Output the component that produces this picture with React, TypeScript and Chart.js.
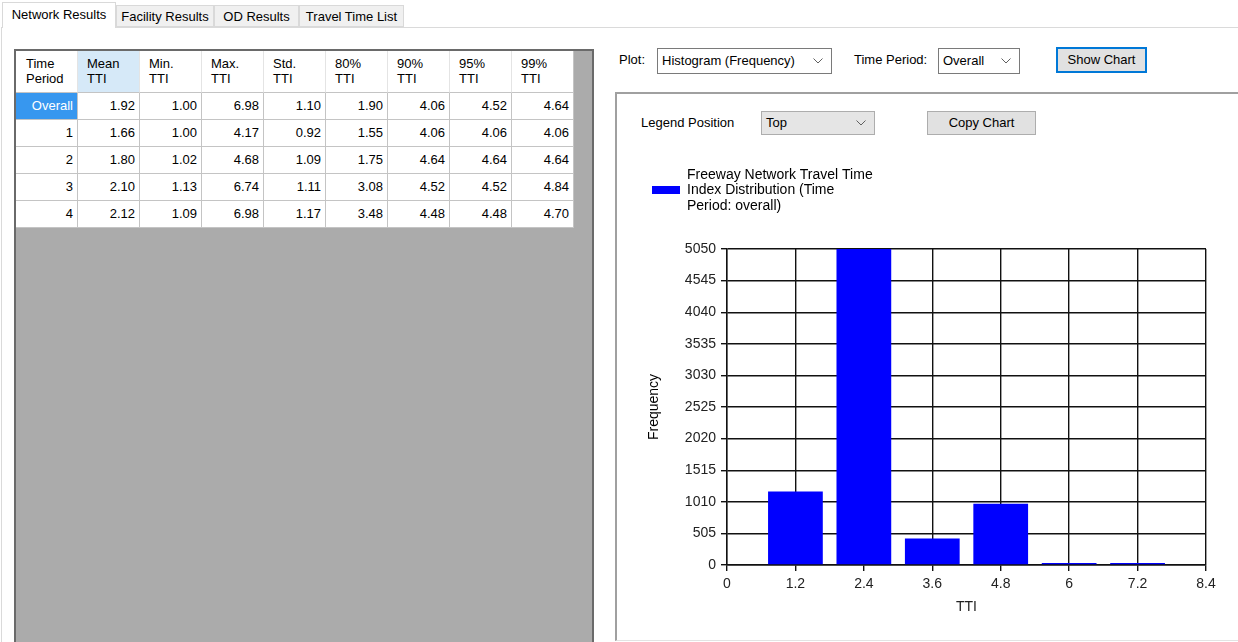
import React, { useEffect, useRef } from "react";
import { Chart, registerables } from "chart.js";

Chart.register(...registerables);

// ---------- chart data ----------
const binCenters = [1.2, 2.4, 3.6, 4.8, 6, 7.2];
const frequencies = [1175, 5050, 425, 978, 30, 30];
const xTickValues = [0, 1.2, 2.4, 3.6, 4.8, 6, 7.2, 8.4];
const yTickValues = [0, 505, 1010, 1515, 2020, 2525, 3030, 3535, 4040, 4545, 5050];
const legendLines = ["Freeway Network Travel Time", "Index Distribution (Time", "Period: overall)"];
const xTitle = "TTI";
const yTitle = "Frequency";

// ---------- table data ----------
const tableHeaders = [
  ["Time", "Period"],
  ["Mean", "TTI"],
  ["Min.", "TTI"],
  ["Max.", "TTI"],
  ["Std.", "TTI"],
  ["80%", "TTI"],
  ["90%", "TTI"],
  ["95%", "TTI"],
  ["99%", "TTI"],
];
const timePeriods = ["Overall", "1", "2", "3", "4"];
const meanTTI = ["1.92", "1.66", "1.80", "2.10", "2.12"];
const minTTI = ["1.00", "1.00", "1.02", "1.13", "1.09"];
const maxTTI = ["6.98", "4.17", "4.68", "6.74", "6.98"];
const stdTTI = ["1.10", "0.92", "1.09", "1.11", "1.17"];
const p80TTI = ["1.90", "1.55", "1.75", "3.08", "3.48"];
const p90TTI = ["4.06", "4.06", "4.64", "4.52", "4.48"];
const p95TTI = ["4.52", "4.06", "4.64", "4.52", "4.48"];
const p99TTI = ["4.64", "4.06", "4.64", "4.84", "4.70"];

const tabs = ["Network Results", "Facility Results", "OD Results", "Travel Time List"];

const FONT = "'Liberation Sans', Arial, sans-serif";
const BAR_COLOR = "#0000ff";

function Chevron() {
  return (
    <svg width="10" height="6" style={{ display: "block" }}>
      <polyline points="0.5,0.5 5,5 9.5,0.5" fill="none" stroke="#606060" strokeWidth="1" />
    </svg>
  );
}

function Combo(props: { left: number; top: number; width: number; height: number; text: string; bg: string; border: string }) {
  const { left, top, width, height, text, bg, border } = props;
  return (
    <div
      style={{
        position: "absolute",
        left,
        top,
        width,
        height,
        boxSizing: "border-box",
        border: `1px solid ${border}`,
        background: bg,
      }}
    >
      <div style={{ position: "absolute", left: 4, top: 0, lineHeight: `${height - 2}px` }}>{text}</div>
      <div style={{ position: "absolute", right: 8, top: (height - 2 - 6) / 2 }}>
        <Chevron />
      </div>
    </div>
  );
}

function Button(props: { left: number; top: number; width: number; height: number; text: string; border: string; bw: number }) {
  const { left, top, width, height, text, border, bw } = props;
  return (
    <div
      style={{
        position: "absolute",
        left,
        top,
        width,
        height,
        boxSizing: "border-box",
        border: `${bw}px solid ${border}`,
        background: "#e1e1e1",
        textAlign: "center",
        lineHeight: `${height - 2 * bw}px`,
      }}
    >
      {text}
    </div>
  );
}

function Label(props: { left: number; cy: number; text: string }) {
  return (
    <div style={{ position: "absolute", left: props.left, top: props.cy - 10, lineHeight: "20px", whiteSpace: "nowrap" }}>
      {props.text}
    </div>
  );
}

function ResultsGrid() {
  const columns = [timePeriods, meanTTI, minTTI, maxTTI, stdTTI, p80TTI, p90TTI, p95TTI, p99TTI];
  const colW = 62;
  const cellBorder = "#c4c4c4";
  return (
    <div
      style={{
        position: "absolute",
        left: 14,
        top: 49,
        width: 580,
        height: 640,
        boxSizing: "border-box",
        border: "2px solid #6a6a6a",
        background: "#ababab",
      }}
    >
      <div style={{ display: "grid", gridTemplateColumns: `repeat(9, ${colW}px)` }}>
        {tableHeaders.map((h, ci) => (
          <div
            key={"h" + ci}
            style={{
              height: 42,
              boxSizing: "border-box",
              borderRight: `1px solid ${ci === 8 ? cellBorder : "#e4e4e4"}`,
              borderBottom: `1px solid ${cellBorder}`,
              background: ci === 1 ? "#d6e9f8" : "#ffffff",
              paddingLeft: ci === 0 ? 10 : 9,
              paddingTop: 5,
              lineHeight: "15px",
            }}
          >
            <div>{h[0]}</div>
            <div>{h[1]}</div>
          </div>
        ))}
        {timePeriods.map((_, ri) =>
          columns.map((col, ci) => {
            const selected = ri === 0 && ci === 0;
            return (
              <div
                key={`c${ri}-${ci}`}
                style={{
                  height: 27,
                  boxSizing: "border-box",
                  borderRight: `1px solid ${cellBorder}`,
                  borderBottom: `1px solid ${cellBorder}`,
                  background: selected ? "#3797ef" : "#ffffff",
                  color: selected ? "#ffffff" : "#000000",
                  textAlign: "right",
                  paddingRight: 4,
                  lineHeight: "26px",
                }}
              >
                {col[ri]}
              </div>
            );
          })
        )}
      </div>
    </div>
  );
}

function HistogramChart() {
  const ref = useRef<HTMLCanvasElement | null>(null);
  useEffect(() => {
    if (!ref.current) return;

    // legend swatch: a blue box aligned with the middle legend line
    const swatch = document.createElement("canvas");
    swatch.width = 28;
    swatch.height = 40;
    const sctx = swatch.getContext("2d");
    if (sctx) {
      sctx.fillStyle = BAR_COLOR;
      sctx.fillRect(0, 31, 28, 8);
    }

    const legendSpacer = {
      id: "legendSpacer",
      beforeInit(chart: any) {
        const legend = chart.legend;
        if (!legend) return;
        const origFit = legend.fit;
        legend.fit = function () {
          origFit.call(this);
          this.height = 91;
        };
      },
    };

    const font = { family: FONT, size: 14, lineHeight: 1.1 };

    const chart = new Chart(ref.current, {
      type: "bar",
      data: {
        datasets: [
          {
            label: legendLines.join(" "),
            data: binCenters.map((x, i) => ({ x, y: frequencies[i] })),
            backgroundColor: BAR_COLOR,
            borderColor: "#5a5aff",
            borderWidth: 0,
            barPercentage: 0.8,
            categoryPercentage: 1.0,
          },
        ],
      },
      options: {
        responsive: false,
        animation: false,
        events: [],
        layout: { padding: { left: 0, right: 30, top: 0, bottom: 0 } },
        plugins: {
          tooltip: { enabled: false },
          legend: {
            display: true,
            position: "top",
            align: "start",
            labels: {
              usePointStyle: true,
              pointStyleWidth: 28,
              padding: 10,
              color: "#000",
              font,
              generateLabels: () => [
                {
                  text: legendLines as any,
                  fillStyle: BAR_COLOR,
                  strokeStyle: BAR_COLOR,
                  lineWidth: 0,
                  pointStyle: swatch as any,
                  rotation: 0,
                  hidden: false,
                  datasetIndex: 0,
                  fontColor: "#000",
                } as any,
              ],
            },
          },
        },
        scales: {
          x: {
            type: "linear",
            min: 0,
            max: 8.4,
            offset: false,
            grid: { offset: false, color: "#111", lineWidth: 1.4, tickLength: 6, tickColor: "#111" },
            border: { color: "#111", width: 1.4 },
            ticks: { padding: 5, color: "#222", font, autoSkip: false, maxRotation: 0, callback: (v: any) => String(v) },
            afterBuildTicks: (s: any) => {
              s.ticks = xTickValues.map((v) => ({ value: v }));
            },
            afterFit: (s: any) => {
              s.height = 54;
            },
            title: { display: true, text: xTitle, color: "#222", font, padding: { top: 4, bottom: 4 } },
          },
          y: {
            type: "linear",
            min: 0,
            max: 5050,
            grid: { color: "#111", lineWidth: 1.4, tickLength: 6, tickColor: "#111" },
            border: { color: "#111", width: 1.4 },
            ticks: { padding: 5, color: "#222", font, autoSkip: false, callback: (v: any) => String(v) },
            afterBuildTicks: (s: any) => {
              s.ticks = yTickValues.map((v) => ({ value: v }));
            },
            afterFit: (s: any) => {
              s.width = 85;
            },
            title: { display: true, text: yTitle, color: "#000", font, padding: { top: 4, bottom: 4 } },
          },
        },
      } as any,
      plugins: [legendSpacer as any],
    });
    return () => chart.destroy();
  }, []);
  return (
    <div style={{ position: "absolute", left: 642, top: 158, width: 594, height: 461 }}>
      <canvas ref={ref} width={594} height={461} style={{ display: "block" }} />
    </div>
  );
}

export default function App() {
  const tabGeom = [
    { left: 2, width: 114 },
    { left: 116, width: 98 },
    { left: 214, width: 85 },
    { left: 299, width: 105 },
  ];
  return (
    <div
      style={{
        position: "absolute",
        left: 0,
        top: 0,
        width: 1238,
        height: 642,
        overflow: "hidden",
        background: "#ffffff",
        fontFamily: FONT,
        fontSize: 13,
        color: "#000",
      }}
    >
      {/* tab page frame */}
      <div
        style={{
          position: "absolute",
          left: 1,
          top: 27,
          width: 1240,
          height: 640,
          boxSizing: "border-box",
          border: "1px solid #dadada",
        }}
      />
      {tabs.map((t, i) => {
        const g = tabGeom[i];
        const sel = i === 0;
        return (
          <div
            key={t}
            style={{
              position: "absolute",
              left: g.left,
              top: sel ? 2 : 5,
              width: g.width,
              height: sel ? 26 : 22,
              boxSizing: "border-box",
              background: sel ? "#ffffff" : "#f0f0f0",
              border: "1px solid #d9d9d9",
              borderBottom: sel ? "none" : "1px solid #d9d9d9",
              textAlign: "center",
              lineHeight: sel ? "24px" : "21px",
              whiteSpace: "nowrap",
              zIndex: sel ? 2 : 1,
            }}
          >
            {t}
          </div>
        );
      })}

      <ResultsGrid />

      {/* top controls */}
      <Label left={619} cy={60} text="Plot:" />
      <Combo left={657} top={48} width={175} height={26} text="Histogram (Frequency)" bg="#ffffff" border="#7a7a7a" />
      <Label left={854} cy={60} text="Time Period:" />
      <Combo left={938} top={48} width={82} height={26} text="Overall" bg="#ffffff" border="#7a7a7a" />
      <Button left={1056} top={47} width={91} height={26} text="Show Chart" border="#0078d7" bw={2} />

      {/* chart panel */}
      <div
        style={{
          position: "absolute",
          left: 615,
          top: 92,
          width: 640,
          height: 549,
          boxSizing: "border-box",
          borderLeft: "2px solid #a0a0a0",
          borderTop: "2px solid #a0a0a0",
          borderBottom: "1px solid #e3e3e3",
          background: "#ffffff",
        }}
      />
      <Label left={641} cy={123} text="Legend Position" />
      <Combo left={761} top={111} width={114} height={24} text="Top" bg="#e5e5e5" border="#adadad" />
      <Button left={927} top={111} width={109} height={24} text="Copy Chart" border="#adadad" bw={1} />

      <HistogramChart />
    </div>
  );
}
